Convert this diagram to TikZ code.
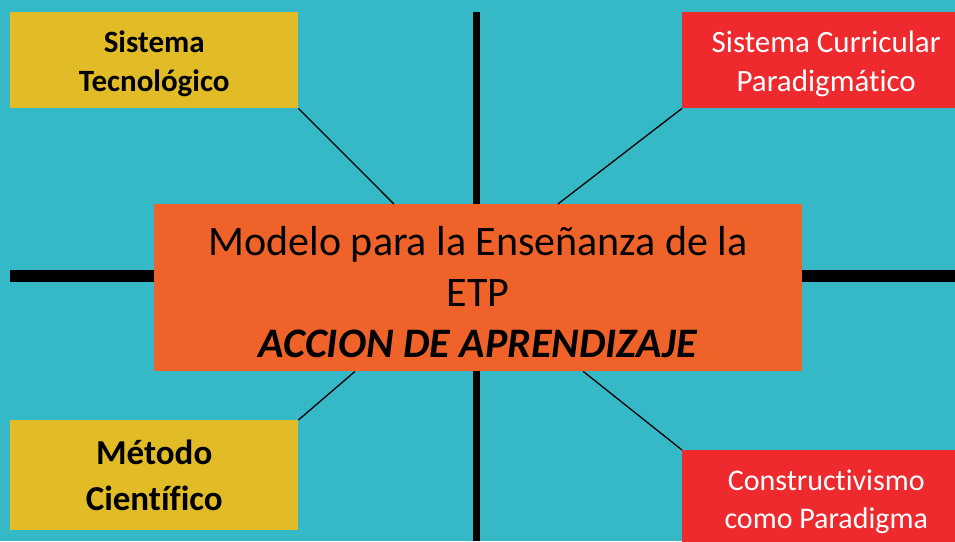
\documentclass[tikz,border=0pt]{standalone}
\usepackage{fontspec}
\setmainfont{Carlito}[Ligatures=NoCommon]
\usetikzlibrary{calc}
\definecolor{fondo}{HTML}{35B9C6}
\definecolor{amarillo}{HTML}{E2BC27}
\definecolor{rojo}{HTML}{EE2A2F}
\definecolor{naranja}{HTML}{EF632A}
\newcommand{\alto}[1][29pt]{\rule{0pt}{#1}}
\tikzset{
  ybox/.style={fill=amarillo, text=black, anchor=north west, inner sep=0pt, align=center,
    minimum width=288pt, font=\bfseries\fontsize{31}{39}\selectfont},
  rbox/.style={fill=rojo, text=white, anchor=north west, inner sep=0pt, align=center,
    minimum width=288pt, font=\fontsize{31}{39}\selectfont},
}
\begin{document}
\begin{tikzpicture}[x=1pt,y=-1pt]
    \useasboundingbox (0,0) rectangle (955,541);
    \clip (0,0) rectangle (955,541);
    \fill[fondo] (0,0) rectangle (955,541);
    % ejes
    \fill (473,12) rectangle (480,541);
    \fill (10,270) rectangle (955,282);
    \node[ybox, minimum height=96pt] (tec) at (10,12) {\alto Sistema\\Tecnológico};
    \node[rbox, minimum height=96pt] (cur) at (682,12) {\alto Sistema Curricular\\Paradigmático};
    \node[ybox, minimum height=110pt, font=\bfseries\fontsize{35}{46}\selectfont] (met) at (10,420) {Método\\Científico};
    \node[rbox, minimum height=104pt, font=\fontsize{30}{38}\selectfont] (con) at (682,450) {Constructivismo\\como Paradigma};
    \node[fill=naranja, anchor=north west, inner sep=0pt, align=center, minimum width=648pt,
      minimum height=167pt, font=\fontsize{42}{51}\selectfont] (modelo) at (154,204)
      {\alto[38pt]Modelo para la Enseñanza de la\\ETP\\\textbf{\textit{ACCION DE APRENDIZAJE}}};
    \draw[line width=1.3pt] (tec.south east) -- ($(modelo.north west)!0.370!(modelo.north east)$);
    \draw[line width=1.3pt] (cur.south west) -- ($(modelo.north west)!0.623!(modelo.north east)$);
    \draw[line width=1.3pt] (met.north east) -- ($(modelo.south west)!0.310!(modelo.south east)$);
    \draw[line width=1.3pt] (con.north west) -- ($(modelo.south west)!0.662!(modelo.south east)$);
\end{tikzpicture}
\end{document}
